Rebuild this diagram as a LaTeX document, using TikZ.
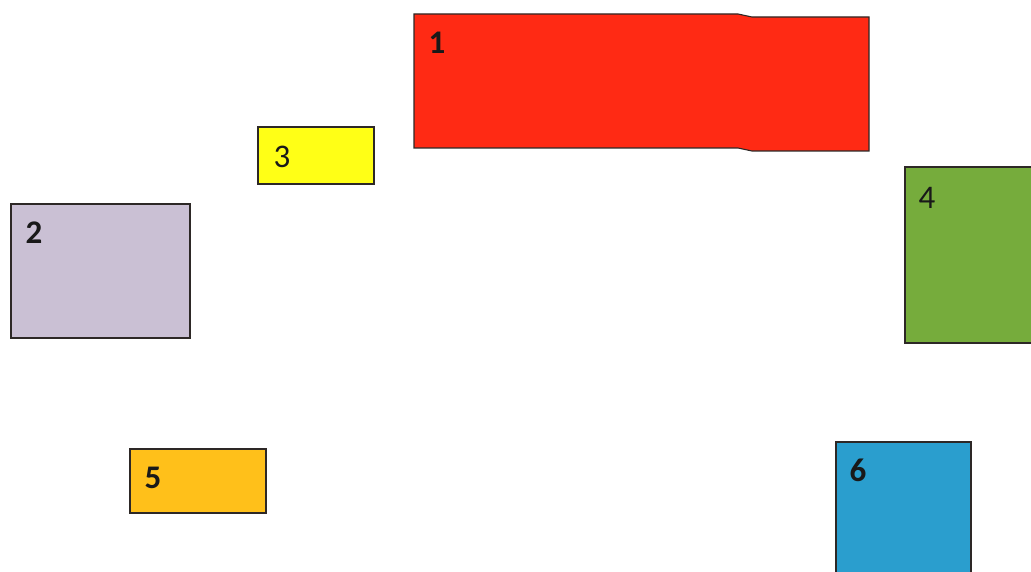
\documentclass[tikz,border=0pt]{standalone}
\usepackage{fontspec}
\setmainfont{Carlito}
\usepackage{tikz}
\usetikzlibrary{positioning}
\usepackage{xcolor}
\definecolor{boxred}{RGB}{255,42,20}
\definecolor{boxyellow}{RGB}{255,255,22}
\definecolor{boxlilac}{RGB}{202,192,212}
\definecolor{boxgreen}{RGB}{118,172,60}
\definecolor{boxorange}{RGB}{255,192,26}
\definecolor{boxblue}{RGB}{42,158,206}
\definecolor{edgegray}{RGB}{45,40,38}

\begin{document}
\begin{tikzpicture}[x=1pt,y=-1pt,
    box/.style={draw=edgegray,line width=1.1pt},
    numlabel/.style={font=\fontsize{33}{33}\selectfont,text=black!90,inner sep=0pt},
    numbold/.style={numlabel,font=\fontsize{33}{33}\selectfont\bfseries}]
    \useasboundingbox (0,0) rectangle (1031,572);
    \clip (0,0) rectangle (1031,572);
    % red strip, with a small step in its top and bottom edges
    \draw[box,fill=boxred] (414,14) -- (738,14) -- (752,17) -- (869,17)
        -- (869,151) -- (752,151) -- (738,148) -- (414,148) -- cycle;
    \node[numbold] (n1) at (437,43) {1};
    \draw[box,fill=boxlilac] (11,204) rectangle (190,338);
    \node[numbold] (n2) at (34,233) {2};
    \draw[box,fill=boxyellow] (258,127) rectangle (374,184);
    \node[numlabel] (n3) at (282,157) {3};
    \draw[box,fill=boxgreen] (905,167) rectangle (1040,343);
    \node[numlabel] (n4) at (927,198) {4};
    \draw[box,fill=boxorange] (130,449) rectangle (266,513);
    \node[numbold] (n5) at (153,478) {5};
    \draw[box,fill=boxblue] (836,442) rectangle (971,580);
    \node[numbold] (n6) at (858,470) {6};
\end{tikzpicture}
\end{document}
